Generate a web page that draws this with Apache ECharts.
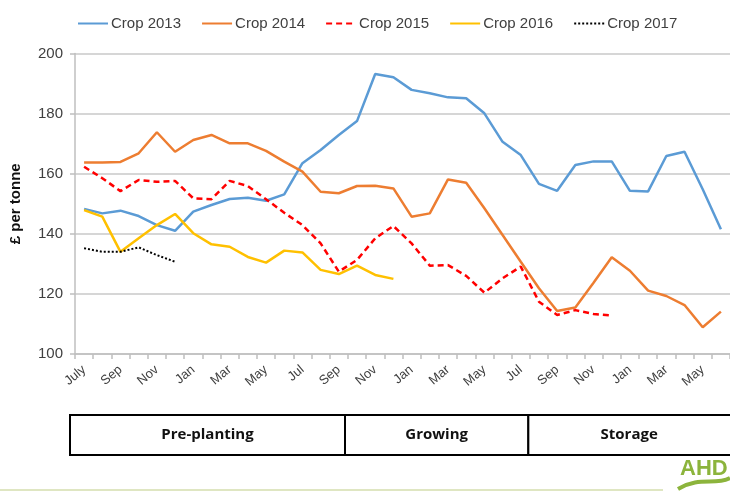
<!DOCTYPE html>
<html>
<head>
<meta charset="utf-8">
<script src="https://cdn.jsdelivr.net/npm/echarts@6/dist/echarts.min.js"></script>
<style>
html,body{margin:0;padding:0;background:#fff;}
#chart{width:730px;height:497px;}
</style>
</head>
<body>
<div id="chart"></div>
<script>
const months = ['July','Aug','Sep','Oct','Nov','Dec','Jan','Feb','Mar','Apr','May','Jun',
                'Jul','Aug','Sep','Oct','Nov','Dec','Jan','Feb','Mar','Apr','May','Jun',
                'Jul','Aug','Sep','Oct','Nov','Dec','Jan','Feb','Mar','Apr','May','Jun'];
const crop2013 = [148.3,146.8,147.7,145.9,142.9,141.0,147.4,149.6,151.6,152.0,151.0,153.1,
                  163.5,167.9,172.9,177.5,193.2,192.1,187.9,186.8,185.4,185.1,180.1,170.6,
                  166.2,156.6,154.3,162.9,164.1,164.1,154.3,154.1,165.9,167.3,154.8,141.5];
const crop2014 = [163.7,163.7,163.9,166.8,173.8,167.3,171.2,172.9,170.1,170.1,167.6,164.0,
                  160.7,154.0,153.5,155.9,156.0,155.1,145.7,146.8,158.1,157.0,148.5,139.6,
                  130.7,121.9,114.3,115.5,123.7,132.2,127.7,121.1,119.3,116.3,108.9,114.1];
const crop2015 = [162.3,158.5,154.2,157.9,157.3,157.6,151.8,151.5,157.6,155.9,151.5,147.0,
                  142.9,136.8,127.4,131.3,138.5,142.6,136.8,129.4,129.6,126.0,120.4,125.2,
                  129.1,117.4,113.0,114.6,113.3,112.8];
const crop2016 = [147.9,145.7,134.0,138.5,142.9,146.6,140.2,136.5,135.7,132.3,130.4,134.4,
                  133.8,128.0,126.6,129.4,126.3,125.0];
const crop2017 = [135.2,134.0,134.0,135.5,132.9,130.7];
const seriesNames = ['Crop 2013','Crop 2014','Crop 2015','Crop 2016','Crop 2017'];
const phases = [{name:'Pre-planting', from:0, to:15},{name:'Growing', from:15, to:25},{name:'Storage', from:25, to:37}];

const GRID_L = 70, GRID_R = 0, GRID_T = 53.5, GRID_B = 143;
const chart = echarts.init(document.getElementById('chart'));
const band = (730 - GRID_L - GRID_R) / months.length;

const graphics = [];
phases.forEach(p => {
  const x0 = GRID_L + p.from * band;
  const x1 = GRID_L + p.to * band;
  graphics.push({type:'rect', shape:{x:x0, y:415, width:x1-x0, height:40},
    style:{fill:'#fff', stroke:'#000', lineWidth:2}, z:10});
  graphics.push({type:'text', x:(x0+Math.min(x1,730))/2, y:435,
    style:{text:p.name, fontFamily:'"Open Sans", "Liberation Sans", sans-serif', fontWeight:'bold', fontSize:15, fill:'#111', align:'center', verticalAlign:'middle'}, z:11});
});
graphics.push({type:'line', shape:{x1:0, y1:490, x2:663, y2:490}, style:{stroke:'#dfe6c2', lineWidth:2}});
graphics.push({type:'text', x:680, y:469, style:{text:'AHD', fontFamily:'"Liberation Sans Narrow", "Liberation Sans", sans-serif', fontWeight:'bold', fontSize:22, fill:'#8cb43c', verticalAlign:'middle'}});
graphics.push({type:'bezierCurve', shape:{x1:678, y1:489, x2:730, y2:478, cpx1:700, cpy1:476, cpx2:715, cpy2:486}, style:{stroke:'#8cb43c', lineWidth:4, fill:null}});

const colors = ['#5b9bd5','#ed7d31','#ff0000','#ffc000','#000000'];
const datas = [crop2013, crop2014, crop2015, crop2016, crop2017];
const types = ['solid','solid',[6,4],'solid',[2,2]];
const widths = [2.5,2.5,2.5,2.5,2];

chart.setOption({
  animation:false,
  backgroundColor:'#ffffff',
  textStyle:{fontFamily:'"Liberation Sans", Arial, sans-serif'},
  legend:{
    top:11, left:72, itemWidth:30, itemHeight:10, itemGap:20,
    itemStyle:{opacity:0},
    textStyle:{fontSize:15, color:'#404040', padding:[0,0,0,-2]},
    data:seriesNames
  },
  grid:{left:GRID_L, right:GRID_R, top:GRID_T, bottom:GRID_B},
  xAxis:{
    type:'category', data:months, boundaryGap:true,
    axisLine:{lineStyle:{color:'#bfbfbf', width:1.5}},
    axisTick:{show:true, interval:0, length:5, lineStyle:{color:'#bfbfbf', width:1.5}},
    axisLabel:{interval:1, rotate:40, fontSize:13, color:'#404040', margin:14}
  },
  yAxis:{
    type:'value', min:100, max:200, interval:20,
    name:'£ per tonne', nameLocation:'middle', nameGap:52, nameRotate:90,
    nameTextStyle:{fontSize:15, fontWeight:'bold', color:'#111'},
    axisLine:{show:true, lineStyle:{color:'#bfbfbf', width:1.5}},
    axisTick:{show:true, length:5, lineStyle:{color:'#bfbfbf', width:1.5}},
    axisLabel:{fontSize:15, color:'#404040', margin:12},
    splitLine:{lineStyle:{color:'#c8c8c8', width:1.5}}
  },
  series: datas.map((d,i) => ({
    name:seriesNames[i], type:'line', data:d, symbol:'none',
    lineStyle:{color:colors[i], width:widths[i], type:types[i]},
    itemStyle:{color:colors[i]}, z: i===2 ? 5 : 3
  })),
  graphic:graphics
});
</script>
</body>
</html>
